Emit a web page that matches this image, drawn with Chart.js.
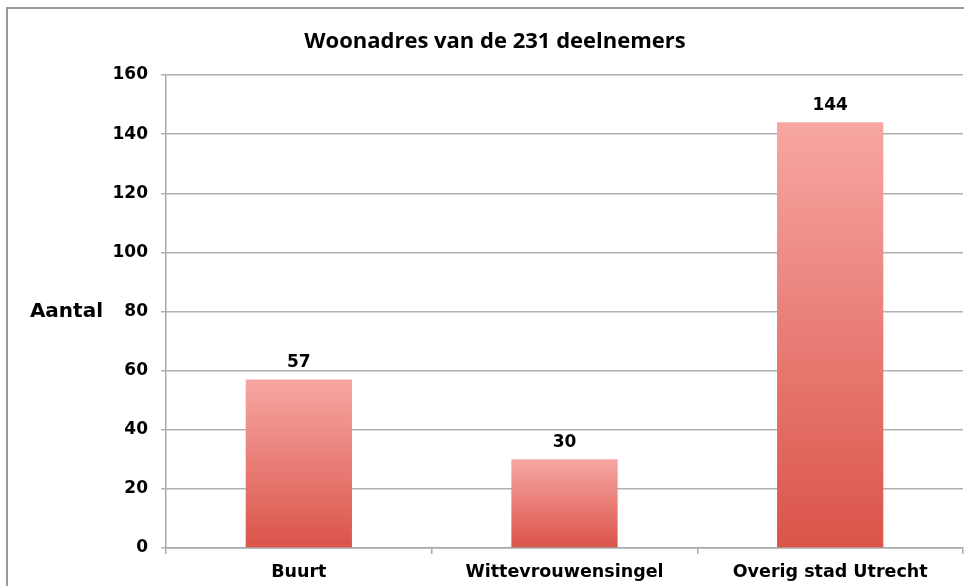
<!DOCTYPE html>
<html><head><meta charset="utf-8">
<script src="https://cdn.jsdelivr.net/npm/chart.js@4"></script>
<style>html,body{margin:0;padding:0;background:#fff;overflow:hidden}canvas{display:block}</style>
</head><body>
<canvas id="c" width="964" height="586"></canvas>
<script>
const chartTitle = 'Woonadres van de 231 deelnemers';
const categories = ['Buurt', 'Wittevrouwensingel', 'Overig stad Utrecht'];
const values = [57, 30, 144];
const yTicks = [0, 20, 40, 60, 80, 100, 120, 140, 160];
const yAxisLabel = 'Aantal';

const FONT = "'DejaVu Sans', Verdana, sans-serif";
const TITLE_FONT = "'Open Sans', 'DejaVu Sans', sans-serif";

const framePlugin = {
  id: 'frame',
  beforeDraw(chart) {
    const c = chart.ctx;
    c.save();
    c.fillStyle = '#fff';
    c.fillRect(0, 0, chart.width, chart.height);
    c.strokeStyle = '#9a9a9a';
    c.lineWidth = 2;
    c.beginPath();
    c.moveTo(7, chart.height + 5);
    c.lineTo(7, 8);
    c.lineTo(chart.width + 5, 8);
    c.stroke();
    c.restore();
  },
  afterDraw(chart) {
    const c = chart.ctx;
    const area = chart.chartArea;
    c.save();
    // title
    c.font = "bold 22px " + TITLE_FONT;
    c.fillStyle = '#000';
    c.textAlign = 'center';
    c.textBaseline = 'middle';
    c.fillText(chartTitle, 495, 42);
    // y axis label, horizontal
    c.font = "bold 20px " + FONT;
    c.textAlign = 'right';
    c.textBaseline = 'middle';
    c.fillText(yAxisLabel, 103, (area.top + area.bottom) / 2);
    // value labels
    c.font = "bold 17px " + FONT;
    c.textAlign = 'center';
    c.textBaseline = 'bottom';
    const meta = chart.getDatasetMeta(0);
    meta.data.forEach((bar, i) => {
      c.fillText(String(values[i]), bar.x, bar.y - 8);
    });
    c.restore();
  }
};

function barGradient(ctx) {
  const chart = ctx.chart;
  if (!chart.chartArea || !chart.scales.y) return '#e57b76';
  const y = chart.scales.y;
  const top = y.getPixelForValue(ctx.raw);
  const bottom = y.getPixelForValue(0);
  const g = chart.ctx.createLinearGradient(0, top, 0, bottom);
  g.addColorStop(0, '#f7a6a3');
  g.addColorStop(1, '#da5449');
  return g;
}

new Chart(document.getElementById('c'), {
  type: 'bar',
  data: {
    labels: categories,
    datasets: [{
      data: values,
      backgroundColor: barGradient,
      borderWidth: 0,
      categoryPercentage: 0.4,
      barPercentage: 1.0
    }]
  },
  plugins: [framePlugin],
  options: {
    responsive: false,
    animation: false,
    devicePixelRatio: 1,
    layout: { padding: { left: 0, right: 1, top: 75, bottom: 0 } },
    plugins: {
      legend: { display: false },
      tooltip: { enabled: false },
      title: { display: false }
    },
    scales: {
      x: {
        afterFit(scale) { scale.height = 38; },
        grid: { display: true, drawOnChartArea: false, drawTicks: true, tickLength: 6, color: '#a8a8a8', lineWidth: 1.5, offset: true },
        border: { display: true, color: '#a8a8a8', width: 1.5 },
        ticks: { color: '#000', font: { family: FONT, size: 17.5, weight: 'bold' }, padding: 8, maxRotation: 0 }
      },
      y: {
        min: 0,
        max: 160,
        afterFit(scale) { scale.width = 166; },
        afterBuildTicks(scale) { scale.ticks = yTicks.map(v => ({ value: v })); },
        grid: { color: '#b0b0b0', lineWidth: 1.5, drawTicks: true, tickLength: 5 },
        border: { display: true, color: '#a8a8a8', width: 1.5 },
        ticks: { color: '#000', font: { family: FONT, size: 17, weight: 'bold' }, padding: 13 }
      }
    }
  }
});
</script>
</body></html>
